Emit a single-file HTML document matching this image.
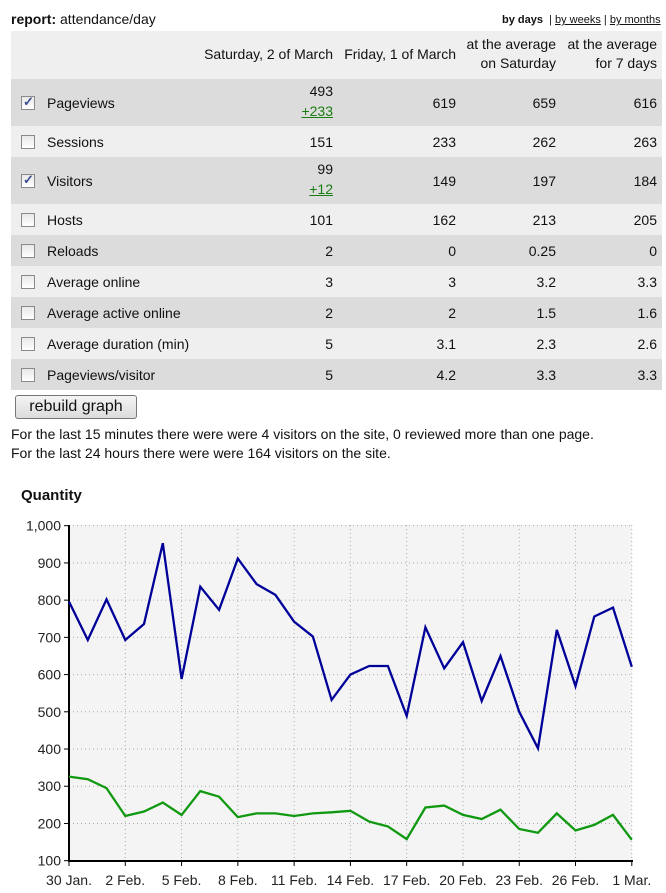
<!DOCTYPE html>
<html><head><meta charset="utf-8"><style>
body{margin:0;width:666px;height:893px;background:#fff;font-family:"Liberation Sans",Arial,sans-serif;font-size:14px;color:#111;position:relative;overflow:hidden}
.a{position:absolute;white-space:nowrap}
.r{position:absolute;left:11px;width:651px}
.n{position:absolute;text-align:right;white-space:nowrap}
.cb{position:absolute;left:21px;width:12px;height:12px;border:1px solid #8a8a8a;background:linear-gradient(#e8e8e8,#fff);}
.ck{color:#3a4f8f;font-size:13px;position:absolute;left:1px;top:-3px;font-weight:bold}
.g{color:#1a7d12;text-decoration:underline}
</style></head><body>
<div class="a" style="left:11px;top:11px"><b>report:</b> attendance/day</div>
<div class="a" style="left:502px;top:14px;font-size:11px"><b>by days</b> &nbsp;| <u>by weeks</u> | <u>by months</u></div>
<div id="t"></div>
<div class="a" style="left:15px;top:395px;width:120px;height:22px;border:1px solid #777;border-radius:3px;background:linear-gradient(#f4f4f4,#dcdcdc);font-size:16px;text-align:center;line-height:22px">rebuild graph</div>
<div class="a" style="left:11px;top:426px">For the last 15 minutes there were were 4 visitors on the site, 0 reviewed more than one page.</div>
<div class="a" style="left:11px;top:445px">For the last 24 hours there were were 164 visitors on the site.</div>
<div class="a" style="left:21px;top:487px;font-weight:bold;font-size:15px">Quantity</div>
<svg id="c" class="a" style="left:0;top:0" width="666" height="893"></svg>
<script>
var rows=[["Pageviews",1,"493","619","659","616","+233"],["Sessions",0,"151","233","262","263"],["Visitors",1,"99","149","197","184","+12"],["Hosts",0,"101","162","213","205"],["Reloads",0,"2","0","0.25","0"],["Average online",0,"3","3","3.2","3.3"],["Average active online",0,"2","2","1.5","1.6"],["Average duration (min)",0,"5","3.1","2.3","2.6"],["Pageviews/visitor",0,"5","4.2","3.3","3.3"]];
var h='<div class="r" style="top:31px;height:48px;background:#efefef"></div>';
h+='<div class="n" style="right:333px;top:46px">Saturday, 2 of March</div><div class="n" style="right:210px;top:46px">Friday, 1 of March</div>';
h+='<div class="n" style="right:110px;top:36px">at the average<br><span style="line-height:22px">on Saturday</span></div><div class="n" style="right:9px;top:36px">at the average<br><span style="line-height:22px">for 7 days</span></div>';
var y=79,R=[666-333,666-456,666-556,666-657];
rows.forEach(function(r,i){var ht=r[6]?47:31;h+='<div class="r" style="top:'+y+'px;height:'+ht+'px;background:'+(i%2?'#efefef':'#dcdcdc')+'"></div>';
var cy=y+ht/2;h+='<div class="cb" style="top:'+(cy-7)+'px">'+(r[1]?'<span class="ck">✓</span>':'')+'</div>';
h+='<div class="a" style="left:47px;top:'+(cy-8)+'px">'+r[0]+'</div>';
for(var k=0;k<4;k++){var t=cy-8;if(k==0&&r[6])t=y+4;h+='<div class="n" style="right:'+R[k]+'px;top:'+t+'px">'+r[2+k]+'</div>';}
if(r[6])h+='<div class="n g" style="right:'+R[0]+'px;top:'+(y+24)+'px">'+r[6]+'</div>';
y+=ht;});
document.getElementById('t').innerHTML=h;
var X0=69,DX=18.76,Y=function(v){return 525.7+(1000-v)*0.3722};
var s='<rect x="69" y="525" width="563" height="336" fill="#f4f4f4"/>';
for(var v=100;v<=1000;v+=100){var yy=Y(v);if(v>100)s+='<line x1="69" x2="632" y1="'+yy+'" y2="'+yy+'" stroke="#aaa" stroke-dasharray="1,3"/>';s+='<line x1="64" x2="69" y1="'+yy+'" y2="'+yy+'" stroke="#000"/><text x="61" y="'+(yy+5)+'" text-anchor="end" font-size="14" fill="#222">'+(v==1000?'1,000':v)+'</text>';}
var L=["30 Jan.","2 Feb.","5 Feb.","8 Feb.","11 Feb.","14 Feb.","17 Feb.","20 Feb.","23 Feb.","26 Feb.","1 Mar."];
for(var i=0;i<11;i++){var xx=X0+i*3*DX;if(i>0)s+='<line x1="'+xx+'" x2="'+xx+'" y1="525" y2="861" stroke="#aaa" stroke-dasharray="1,3"/>';s+='<line x1="'+xx+'" x2="'+xx+'" y1="861" y2="866" stroke="#000"/><text x="'+xx+'" y="885" text-anchor="middle" font-size="14" fill="#222">'+L[i]+'</text>';}
s+='<line x1="69" x2="69" y1="525" y2="862" stroke="#000" stroke-width="2"/><line x1="68" x2="633" y1="861" y2="861" stroke="#000" stroke-width="2"/>';
var B=[796,693,802,693,736,953,588,836,774,912,843,814,742,702,532,600,623,623,489,727,617,687,529,650,500,402,720,569,756,780,621];
var G=[326,319,295,220,232,256,223,287,272,217,227,227,220,227,230,234,205,192,158,243,248,223,212,237,185,175,227,181,196,223,156];
function pl(a,c){return '<polyline fill="none" stroke="'+c+'" stroke-width="2.3" points="'+a.map(function(v,i){return (X0+i*DX).toFixed(1)+','+Y(v).toFixed(1)}).join(' ')+'"/>';}
s+=pl(B,'#000099')+pl(G,'#109910');
document.getElementById('c').innerHTML=s;
</script>
</body></html>
